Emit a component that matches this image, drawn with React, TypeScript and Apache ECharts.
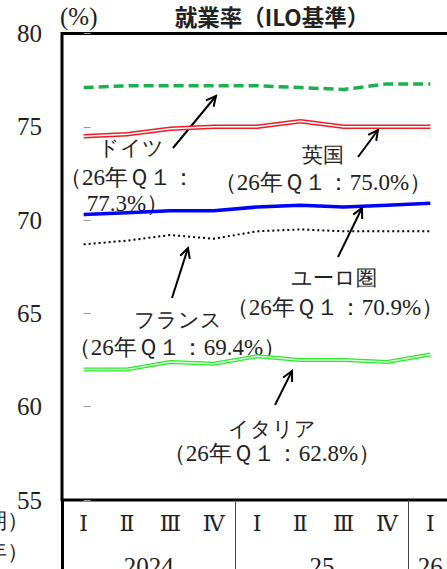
import React, { useEffect, useRef } from "react";
import * as echarts from "echarts";

// ---- data ----
const quarters = ["Ⅰ", "Ⅱ", "Ⅲ", "Ⅳ", "Ⅰ", "Ⅱ", "Ⅲ", "Ⅳ", "Ⅰ"];
const quarterYears = ["2024", "2024", "2024", "2024", "25", "25", "25", "25", "26"];
const yMin = 55;
const yMax = 80;
const yStep = 5;

const germany = [77.1, 77.2, 77.2, 77.2, 77.2, 77.1, 77.0, 77.3, 77.3];
const uk = [74.5, 74.6, 74.9, 75.0, 75.0, 75.3, 75.0, 75.0, 75.0];
const euro = [70.3, 70.4, 70.5, 70.5, 70.7, 70.8, 70.7, 70.8, 70.9];
const france = [68.7, 68.9, 69.2, 69.0, 69.4, 69.5, 69.4, 69.4, 69.4];
const italy = [62.0, 62.0, 62.4, 62.3, 62.7, 62.5, 62.5, 62.4, 62.8];

const titleText = "就業率（ILO基準）";
const unitText = "(%)";
const periodText = "（期）";
const yearText = "（年）";

// ---- helpers ----
const last = (a: number[]) => a[a.length - 1];
const latest = (a: number[]) => `${last(a).toFixed(1)}%）`;
const yearList: string[] = [];
quarterYears.forEach((y) => {
  if (!yearList.includes(y)) yearList.push(y);
});
const yearCenters = yearList.map((y) => {
  const idx = quarterYears.map((q, i) => (q === y ? i : -1)).filter((i) => i >= 0);
  return (idx[0] + idx[idx.length - 1]) / 2;
});
const yearBounds: number[] = [];
quarterYears.forEach((y, i) => {
  if (i > 0 && y !== quarterYears[i - 1]) yearBounds.push(i - 0.5);
});

const serif = "serif";
const TXT = "#222";

function text(t: string, x: number, y: number, align = "center", size = 21) {
  return {
    type: "text",
    x,
    y,
    silent: true,
    style: {
      text: t,
      fontFamily: serif,
      fontSize: size,
      fill: TXT,
      align,
      verticalAlign: "middle",
    },
  };
}

function arrow(x1: number, y1: number, x2: number, y2: number) {
  const a = Math.atan2(y2 - y1, x2 - x1);
  const L = 11;
  const s = (27 * Math.PI) / 180;
  const p1 = [x2 - L * Math.cos(a - s), y2 - L * Math.sin(a - s)];
  const p2 = [x2 - L * Math.cos(a + s), y2 - L * Math.sin(a + s)];
  return {
    type: "group",
    silent: true,
    children: [
      { type: "line", shape: { x1, y1, x2, y2 }, style: { stroke: "#000", lineWidth: 2 } },
      {
        type: "polyline",
        shape: { points: [p1, [x2, y2], p2] },
        style: { stroke: "#000", lineWidth: 2, fill: null },
      },
    ],
  };
}

export default function App() {
  const ref = useRef<HTMLDivElement>(null);
  useEffect(() => {
    const chart = echarts.init(ref.current!, null, { renderer: "svg" });
    const lineBase = { type: "line", showSymbol: false, symbol: "none", xAxisIndex: 0, yAxisIndex: 0 };
    const option: any = {
      animation: false,
      backgroundColor: "#fff",
      title: {
        text: titleText,
        left: 267,
        textAlign: "center",
        top: 0,
        textStyle: { fontFamily: "Noto Sans CJK JP", fontSize: 22.5, fontWeight: "bold", color: TXT },
      },
      grid: {
        left: 62,
        right: -5,
        top: 33.5,
        bottom: 69,
        show: true,
        borderColor: "#000",
        borderWidth: 3,
        backgroundColor: "transparent",
        containLabel: false,
        outerBoundsMode: "none",
      },
      xAxis: [
        {
          type: "category",
          data: quarters,
          position: "bottom",
          boundaryGap: true,
          axisLine: { show: false },
          axisTick: { show: false },
          axisLabel: {
            fontFamily: "DejaVu Serif, serif",
            fontSize: 22,
            color: TXT,
            margin: 12,
            interval: 0,
          },
          splitLine: { show: false },
        },
        {
          type: "value",
          min: -0.5,
          max: quarters.length - 0.5,
          position: "bottom",
          axisLine: { show: false },
          splitLine: { show: false },
          axisTick: {
            show: true,
            customValues: yearBounds,
            length: 69,
            lineStyle: { color: "#444", width: 1 },
          },
          axisLabel: {
            show: true,
            customValues: yearCenters,
            formatter: (v: number) => {
              const k = yearCenters.findIndex((c) => Math.abs(c - v) < 1e-6);
              return k >= 0 ? yearList[k] : "";
            },
            fontFamily: serif,
            fontSize: 25,
            color: TXT,
            margin: 54,
          },
        },
        {
          type: "value",
          min: -0.5,
          max: quarters.length - 0.5,
          position: "bottom",
          axisLine: { show: false },
          splitLine: { show: false },
          axisTick: {
            show: true,
            customValues: [-0.5],
            length: 69,
            lineStyle: { color: "#000", width: 3 },
          },
          axisLabel: { show: false },
        },
      ],
      yAxis: {
        type: "value",
        min: yMin,
        max: yMax,
        interval: yStep,
        axisLine: { show: false },
        axisTick: { show: true, inside: true, length: 7, lineStyle: { color: "#999", width: 1 } },
        splitLine: { show: false },
        axisLabel: { fontFamily: serif, fontSize: 25, color: TXT, margin: 20 },
      },
      series: [
        { ...lineBase, name: "ドイツ", data: germany, lineStyle: { color: "#1db04f", width: 3.5, type: [10, 5] }, z: 3 },
        { ...lineBase, name: "英国", data: uk, lineStyle: { color: "#f01c24", width: 4.5 }, z: 3 },
        { ...lineBase, name: "英国_in", data: uk, lineStyle: { color: "#fff", width: 1.5 }, z: 4 },
        { ...lineBase, name: "ユーロ圏", data: euro, lineStyle: { color: "#0000ff", width: 3.5 }, z: 3 },
        { ...lineBase, name: "フランス", data: france, lineStyle: { color: "#000", width: 2, type: [2, 3] }, z: 3 },
        { ...lineBase, name: "イタリア", data: italy, lineStyle: { color: "#2ee82e", width: 4 }, z: 3 },
        { ...lineBase, name: "イタリア_in", data: italy, lineStyle: { color: "#d8ffd8", width: 1.5 }, z: 4 },
      ],
      graphic: [
        text(unitText, 60, 16, "left", 25),
        text(periodText, 29, 520, "right", 22),
        text(yearText, 29, 551, "right", 22),
        // Germany
        arrow(173, 148, 216, 96),
        text("ドイツ", 131, 148),
        text("（26年Ｑ１：", 127, 177, "center", 23),
        text(latest(germany), 128, 203, "center", 23),
        // UK
        arrow(358, 157, 378, 130),
        text("英国", 323, 155),
        text("（26年Ｑ１：" + latest(uk), 323, 182, "center", 23),
        // Euro area
        arrow(338, 257, 362, 208),
        text("ユーロ圏", 334, 278),
        text("（26年Ｑ１：" + latest(euro), 335, 307, "center", 23),
        // France
        arrow(172, 298, 188, 248),
        text("フランス", 178, 320),
        text("（26年Ｑ１：" + latest(france), 177, 347, "center", 23),
        // Italy
        arrow(275, 405, 292, 371),
        text("イタリア", 272, 429),
        text("（26年Ｑ１：" + latest(italy), 272, 453, "center", 23),
      ],
    };
    chart.setOption(option);
    return () => chart.dispose();
  }, []);
  return (
    <div
      ref={ref}
      style={{ position: "fixed", left: 0, top: 0, width: 447, height: 569, background: "#fff", overflow: "hidden" }}
    />
  );
}
